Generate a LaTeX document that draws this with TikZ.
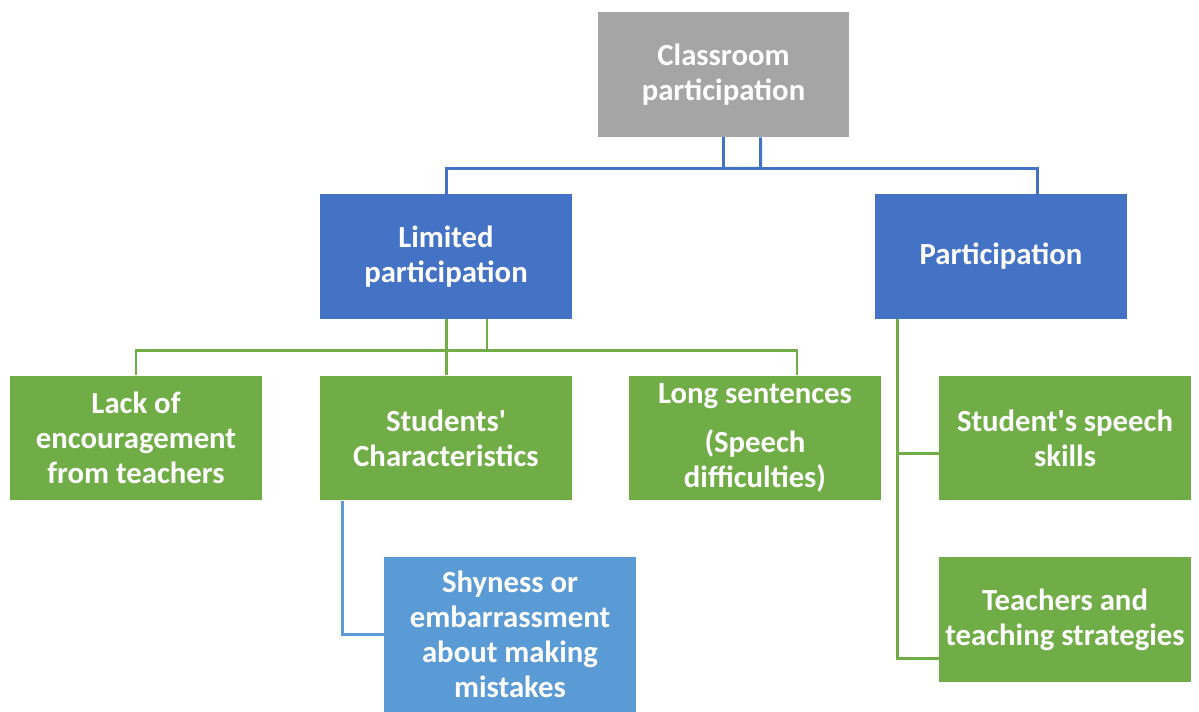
\documentclass[tikz,border=0pt]{standalone}
\usepackage{fontspec}
\setmainfont{Carlito}
\usetikzlibrary{calc}
\definecolor{boxgray}{HTML}{A5A5A5}
\definecolor{boxblue}{HTML}{4472C4}
\definecolor{boxgreen}{HTML}{70AD47}
\definecolor{boxlight}{HTML}{5B9BD5}
\tikzset{box/.style={rectangle,inner sep=0pt,minimum width=5.04cm,minimum height=2.5cm,
  text=white,align=center,font=\bfseries\fontsize{17.5pt}{19.9pt}\selectfont},
  graybox/.style={box,fill=boxgray},
  bluebox/.style={box,fill=boxblue},
  greenbox/.style={box,fill=boxgreen},
  lightbox/.style={box,fill=boxlight,minimum height=3.1cm},
  link/.style={line width=1.7pt,draw=#1}}

\begin{document}
\begin{tikzpicture}[x=0.02cm,y=-0.02cm]
  \useasboundingbox (0,0) rectangle (1199,712);
  \node[graybox]  (top)   at (723.5,74.5)  {Classroom\\participation};
  \node[bluebox]  (lim)   at (446,256.5)   {Limited\\participation};
  \node[bluebox]  (part)  at (1001,256.5)  {Participation};
  \node[greenbox] (lack)  at (136,438)     {Lack of\\encouragement\\from teachers};
  \node[greenbox] (stu)   at (446,438)     {Students\textquotesingle\\Characteristics};
  \node[greenbox] (long)  at (755,438)     {Long sentences\\[0.28cm](Speech\\difficulties)};
  \node[greenbox] (skill) at (1065,438)    {Student\textquotesingle s speech\\skills};
  \node[lightbox] (shy)   at (510,634.5)   {Shyness or\\embarrassment\\about making\\mistakes};
  \node[greenbox] (teach) at (1065,619.5)  {Teachers and\\teaching strategies};
  % top level
  \draw[link=boxblue] (top.south) -- ++(0,31) coordinate (tj) -| (lim.north);
  \draw[link=boxblue] (tj) -- ++(37,0) -- ([xshift=0.74cm]top.south);
  \draw[link=boxblue] (tj) -| ([xshift=0.72cm]part.north);
  % limited participation
  \draw[link=boxgreen] (lim.south) -- (stu.north);
  \draw[link=boxgreen] ([xshift=0.82cm]lim.south) -- ++(0,31) coordinate (lj) -| (lack.north);
  \draw[link=boxgreen] (lj) -| ([xshift=0.84cm]long.north);
  % participation
  \draw[link=boxgreen] ([xshift=0.46cm]part.south west) |- ([yshift=-0.78cm]teach.west);
  \draw[link=boxgreen] ([xshift=0.46cm]part.south west) |- ([yshift=-0.31cm]skill.west);
  \draw[link=boxlight] ([xshift=0.46cm]stu.south west) |- (shy.west);
\end{tikzpicture}
\end{document}
